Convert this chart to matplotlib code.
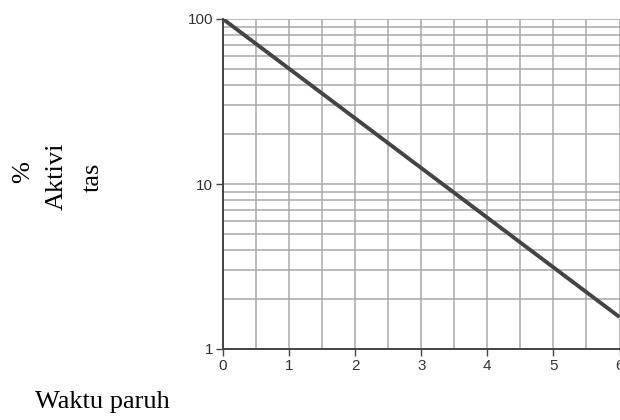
import matplotlib.pyplot as plt
import matplotlib.ticker as ticker
import numpy as np

# half-life decay: activity halves each half-life
half_lives = [0, 1, 2, 3, 4, 5, 6]
activity = [100, 50, 25, 12.5, 6.25, 3.125, 1.5625]
xticks = [0, 1, 2, 3, 4, 5, 6]
yticks = [1, 10, 100]
ytick_labels = ["1", "10", "100"]

fig = plt.figure(figsize=(6.2, 4.2), dpi=100)
ax = fig.add_axes([223 / 620, 1 - 349 / 420, 396.5 / 620, 330 / 420])

ax.set_yscale("log")
ax.set_xlim(0, 6)
ax.set_ylim(1, 100)

# grid: every half unit on x, log minor lines on y
ax.set_xticks(np.arange(0, 6.01, 0.5), minor=True)
ax.yaxis.set_minor_locator(ticker.LogLocator(base=10, subs=np.arange(2, 10)))
ax.yaxis.set_minor_formatter(ticker.NullFormatter())
ax.grid(True, which="both", color="#a8a8a8", linewidth=1.1)
ax.set_axisbelow(True)

ax.plot(half_lives, activity, color="#444444", linewidth=2.8, solid_capstyle="butt")

ax.set_xticks(xticks)
ax.set_xticklabels([str(v) for v in xticks], family="Liberation Sans", fontsize=11,
                   color="#333333")
ax.set_yticks(yticks)
ax.set_yticklabels(ytick_labels, family="Liberation Sans", fontsize=11, color="#333333")
ax.tick_params(which="major", length=5, width=1, color="#444444", pad=2)
ax.tick_params(which="minor", length=0)

for side in ["top", "right"]:
    ax.spines[side].set_visible(False)
for side in ["left", "bottom"]:
    ax.spines[side].set_color("#444444")
    ax.spines[side].set_linewidth(1.4)

fig.text(23 / 620, 1 - 172 / 420, "%", family="Liberation Serif", fontsize=19,
         rotation=90, ha="center", va="center")
fig.text(57 / 620, 1 - 176 / 420, "Aktivi", family="Liberation Serif", fontsize=19,
         rotation=90, ha="center", va="center")
fig.text(93 / 620, 1 - 177 / 420, "tas", family="Liberation Serif", fontsize=19,
         rotation=90, ha="center", va="center")
fig.text(35 / 620, 1 - 402 / 420, "Waktu paruh", family="Liberation Serif", fontsize=19,
         ha="left", va="center")

fig.savefig("out.png", dpi=100)
